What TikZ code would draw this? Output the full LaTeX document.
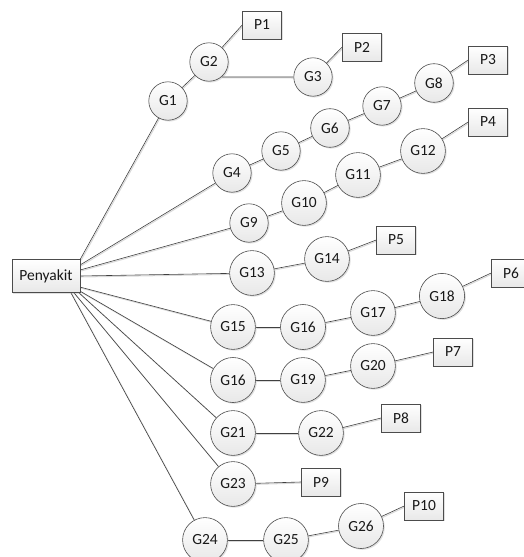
\documentclass[tikz,border=0pt]{standalone}
\usepackage{fontspec}
\setmainfont{Carlito}
\usetikzlibrary{shadows,backgrounds}
\begin{document}
\begin{tikzpicture}[x=1pt,y=-1pt,
  every node/.style={font=\fontsize{15.5}{18}\selectfont, text=black!90},
  nodeshadow/.style={drop shadow={shadow xshift=1.3pt, shadow yshift=-1.3pt, opacity=0.3, fill=black!40}},
  gnode/.style={circle, draw=black!70, line width=0.6pt, inner sep=6.5pt,
    top color=white, bottom color=black!9, nodeshadow},
  pbox/.style={rectangle, draw=black!70, line width=0.6pt, minimum width=39pt,
    minimum height=28pt, inner sep=2pt, top color=white, bottom color=black!9, nodeshadow},
  rootbox/.style={pbox, minimum width=68pt, minimum height=33pt},
  link/.style={draw=black!75, line width=0.6pt,
    preaction={draw=black!15, line width=1pt, transform canvas={xshift=0.9pt, yshift=-1pt}}}]
\useasboundingbox (0,0) rectangle (524,557);
\clip (0,0) rectangle (524,557);
% nodes
\node[rootbox] (pen) at (46,276) {Penyakit};
\node[gnode] (G1) at (168,101) {G1};
\node[gnode] (G2) at (209,62) {G2};
\node[pbox] (P1) at (262,25) {P1};
\node[gnode] (G3) at (313,77) {G3};
\node[pbox] (P2) at (362,47) {P2};
\node[gnode] (G4) at (232,173) {G4};
\node[gnode] (G5) at (281,151) {G5};
\node[gnode] (G6) at (330,128) {G6};
\node[gnode] (G7) at (382,106) {G7};
\node[gnode] (G8) at (434,83) {G8};
\node[pbox] (P3) at (488,60) {P3};
\node[gnode] (G9) at (249,223) {G9};
\node[gnode] (G10) at (304,203) {G10};
\node[gnode] (G11) at (358,175) {G11};
\node[gnode] (G12) at (423,151) {G12};
\node[pbox] (P4) at (488,122) {P4};
\node[gnode] (G13) at (252,273) {G13};
\node[gnode] (G14) at (327,259) {G14};
\node[pbox] (P5) at (396,240) {P5};
\node[gnode] (G15) at (233,327) {G15};
\node[gnode] (G16a) at (303,327) {G16};
\node[gnode] (G17) at (373,313) {G17};
\node[gnode] (G18) at (442,296) {G18};
\node[pbox] (P6) at (511,273) {P6};
\node[gnode] (G16b) at (233,380) {G16};
\node[gnode] (G19) at (303,380) {G19};
\node[gnode] (G20) at (373,366) {G20};
\node[pbox] (P7) at (453,352) {P7};
\node[gnode] (G21) at (233,433) {G21};
\node[gnode] (G22) at (321,433) {G22};
\node[pbox] (P8) at (401,418) {P8};
\node[gnode] (G23) at (233,484) {G23};
\node[pbox] (P9) at (321,482) {P9};
\node[gnode] (G24) at (205,540) {G24};
\node[gnode] (G25) at (286,540) {G25};
\node[gnode] (G26) at (361,526) {G26};
\node[pbox] (P10) at (424,506) {P10};
% connectors
\begin{pgfonlayer}{background}
\draw[link] (pen.north east) -- (G1);
\draw[link] (pen.18) -- (G4);
\draw[link] (pen.10) -- (G9);
\draw[link] (pen.0) -- (G13);
\draw[link] (pen.-18) -- (G15);
\draw[link] (pen.-24) -- (G16b);
\draw[link] (pen.-27) -- (G21);
\draw[link] (pen.-31) -- (G23);
\draw[link] (pen.-34.5) -- (G24);
\draw[link] (G1) -- (G2);
\draw[link] (G2) -- (P1.west);
\draw[link] (G2.-50) -- (G3.west);
\draw[link] (G3) -- (P2.west);
\draw[link] (G4) -- (G5);
\draw[link] (G5) -- (G6);
\draw[link] (G6) -- (G7);
\draw[link] (G7) -- (G8);
\draw[link] (G8) -- (P3.west);
\draw[link] (G9) -- (G10);
\draw[link] (G10) -- (G11);
\draw[link] (G11) -- (G12);
\draw[link] (G12) -- (P4.west);
\draw[link] (G13) -- (G14);
\draw[link] (G14) -- (P5.west);
\draw[link] (G15) -- (G16a);
\draw[link] (G16a) -- (G17);
\draw[link] (G17) -- (G18);
\draw[link] (G18) -- (P6.west);
\draw[link] (G16b) -- (G19);
\draw[link] (G19) -- (G20);
\draw[link] (G20) -- (P7.west);
\draw[link] (G21) -- (G22);
\draw[link] (G22) -- (P8.west);
\draw[link] (G23) -- (P9.west);
\draw[link] (G24) -- (G25);
\draw[link] (G25) -- (G26);
\draw[link] (G26) -- (P10.west);
\end{pgfonlayer}
\end{tikzpicture}
\end{document}
